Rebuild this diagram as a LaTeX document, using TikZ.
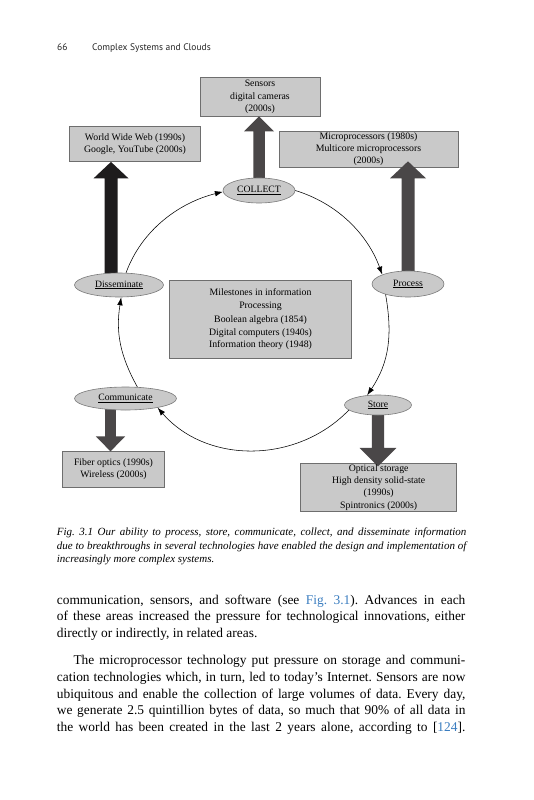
\documentclass[tikz,border=0pt]{standalone}
\usepackage{fontspec}
\setmainfont{Liberation Serif}
\newfontfamily\headfont{PT Sans}
\usetikzlibrary{arrows.meta,shapes.geometric,calc}
\pgfdeclarelayer{paperlayer}
\pgfdeclarelayer{boxlayer}
\pgfdeclarelayer{arrowlayer}
\pgfsetlayers{paperlayer,boxlayer,arrowlayer,main}
\frenchspacing
\definecolor{boxfill}{HTML}{C9C9C9}
\definecolor{boxline}{HTML}{6E6E6E}
\definecolor{ellfill}{HTML}{C9C9C9}
\definecolor{ellline}{HTML}{7A7A7A}
\definecolor{blkgray}{HTML}{4A4748}
\definecolor{blkblack}{HTML}{1E1C1D}
\definecolor{linkblue}{HTML}{3A7DC0}
\newcommand\blkup[6]{% start, tip, shaft half, head half, head length, colour
  \fill[#6] let \p1=(#1), \p2=(#2) in
    (\x1-#3,\y1) -- (\x1-#3,\y2-#5) -- (\x1-#4,\y2-#5) -- (\x1,\y2)
    -- (\x1+#4,\y2-#5) -- (\x1+#3,\y2-#5) -- (\x1+#3,\y1) -- cycle;}
\newcommand\blkdown[6]{%
  \fill[#6] let \p1=(#1), \p2=(#2) in
    (\x1-#3,\y1) -- (\x1-#3,\y2+#5) -- (\x1-#4,\y2+#5) -- (\x1,\y2)
    -- (\x1+#4,\y2+#5) -- (\x1+#3,\y2+#5) -- (\x1+#3,\y1) -- cycle;}
\begin{document}
\begin{tikzpicture}[x=1pt,y=1pt,
  box/.style={draw=boxline, fill=boxfill, line width=0.7pt, inner sep=0pt},
  ell/.style={ellipse, draw=ellline, fill=ellfill, line width=0.6pt, inner sep=0pt,
    font=\fontsize{9.7}{12}\selectfont},
  lbl/.style={align=center, inner sep=0pt, font=\fontsize{9.8}{12.2}\selectfont},
  flow/.style={-{Latex[length=8pt,width=5.5pt]}, line width=0.55pt, black},
  bodyline/.style={inner sep=0pt, anchor=base west, font=\fontsize{13.4}{16.6}\selectfont},
  capline/.style={inner sep=0pt, anchor=base west, font=\fontsize{11}{13}\selectfont\itshape},
  hdrline/.style={inner sep=0pt, anchor=base west, font=\fontsize{9.5}{11}\headfont, text=black!85}]
\useasboundingbox (0,0) rectangle (533,-800);
\begin{pgfonlayer}{paperlayer}
\fill[white] (0,0) rectangle (533,-800);
\end{pgfonlayer}

% header
\node[hdrline] (pgno) at (57,-50.5) {66};
\node[hdrline] (runhead) at (92,-50.5) {Complex Systems and Clouds};

% boxes (shapes)
\begin{pgfonlayer}{boxlayer}
\node[box, minimum width=120pt, minimum height=38.5pt] (sens) at (260,-96.8) {};
\node[box, minimum width=131pt, minimum height=35.5pt] (www) at (135,-143.8) {};
\node[box, minimum width=179pt, minimum height=36pt] (micro) at (368.5,-149) {};
\node[box, minimum width=182.4pt, minimum height=78.3pt] (mile) at (260.5,-319.2) {};
\node[box, minimum width=101.6pt, minimum height=35.6pt] (fiber) at (113.5,-469.5) {};
\node[box, minimum width=156pt, minimum height=48.4pt] (stor) at (378.7,-487.5) {};
\end{pgfonlayer}

% box texts
\node[lbl] (sensT) at (sens) {Sensors\\digital cameras\\(2000s)};
\node[lbl] (wwwT) at (www) {World Wide Web (1990s)\\Google, YouTube (2000s)};
\node[lbl] (microT) at (micro) {Microprocessors (1980s)\\Multicore microprocessors\\(2000s)};
\node[lbl] (mileT) at (mile) {Milestones in information\\Processing\\[2.5pt]Boolean algebra (1854)\\Digital computers (1940s)\\Information theory (1948)};
\node[lbl] (fiberT) at (fiber) {Fiber optics (1990s)\\Wireless (2000s)};
\node[lbl] (storT) at (stor) {Optical storage\\High density solid-state\\(1990s)\\Spintronics (2000s)};

% ellipses
\node[ell, minimum width=72pt, minimum height=25pt] (col) at (259,-190.5) {\underline{COLLECT}};
\node[ell, minimum width=89pt, minimum height=24pt] (dis) at (119,-285) {\underline{Disseminate}};
\node[ell, minimum width=72pt, minimum height=26pt] (pro) at (408,-284) {\underline{Process}};
\node[ell, minimum width=102pt, minimum height=23pt] (com) at (125.5,-398.5) {\underline{Communicate}};
\node[ell, minimum width=67pt, minimum height=20pt] (sto) at (378,-405) {\underline{Store}};

% block arrows
\coordinate (disA) at ([xshift=-8pt]dis.center);
\coordinate (comA) at ([xshift=-15pt]com.center);
\begin{pgfonlayer}{arrowlayer}
\blkup{col.center}{col.center |- sens.south}{5.75pt}{15pt}{15pt}{blkgray}
\blkup{disA}{disA |- www.south}{6.5pt}{17.5pt}{16.5pt}{blkblack}
\blkup{pro.center}{[yshift=6pt]pro.center |- micro.south}{6.5pt}{18pt}{17pt}{blkgray}
\blkdown{comA}{comA |- fiber.north}{5.4pt}{14.7pt}{15pt}{blkgray}
\blkdown{sto.center}{[yshift=-3.4pt]sto.center |- stor.north}{6.2pt}{18.3pt}{18.4pt}{blkgray}
\end{pgfonlayer}

% cycle
\draw[flow] (dis.60) to[out=70,in=194,looseness=0.92] (col.182);
\draw[flow] (col.east) to[out=-17,in=110,looseness=0.92] (pro.160);
\draw[flow] (pro.205) to[out=-80,in=56] (sto.138);
\draw[flow] (sto.190) to[out=226,in=311] (com.-16);
\draw[flow] (com.44) to[out=119,in=261] (dis.-80);

% caption
\node[capline] (cap1) at (56.7,-535.5) {\makebox[409.5pt][s]{Fig. 3.1 Our ability to process, store, communicate, collect, and disseminate information}};
\node[capline] (cap2) at (56.7,-549) {\makebox[409.5pt][s]{due to breakthroughs in several technologies have enabled the design and implementation of}};
\node[capline] (cap3) at (56.7,-562.5) {increasingly more complex systems.};

% body text
\node[bodyline] (b1) at (56.7,-604) {\makebox[408.5pt][s]{communication, sensors, and software (see \textcolor{linkblue}{Fig. 3.1}). Advances in each}};
\node[bodyline] (b2) at (56.7,-620.6) {\makebox[408.5pt][s]{of these areas increased the pressure for technological innovations, either}};
\node[bodyline] (b3) at (56.7,-637.2) {directly or indirectly, in related areas.};
\node[bodyline] (b4) at (73.3,-664.8) {\makebox[391.9pt][s]{The microprocessor technology put pressure on storage and communi-}};
\node[bodyline] (b5) at (56.7,-681.4) {\makebox[408.5pt][s]{cation technologies which, in turn, led to today’s Internet. Sensors are now}};
\node[bodyline] (b6) at (56.7,-698) {\makebox[408.5pt][s]{ubiquitous and enable the collection of large volumes of data. Every day,}};
\node[bodyline] (b7) at (56.7,-714.6) {\makebox[408.5pt][s]{we generate 2.5 quintillion bytes of data, so much that 90\% of all data in}};
\node[bodyline] (b8) at (56.7,-731.2) {\makebox[408.5pt][s]{the world has been created in the last 2 years alone, according to [\textcolor{linkblue}{124}].}};
\end{tikzpicture}
\end{document}
